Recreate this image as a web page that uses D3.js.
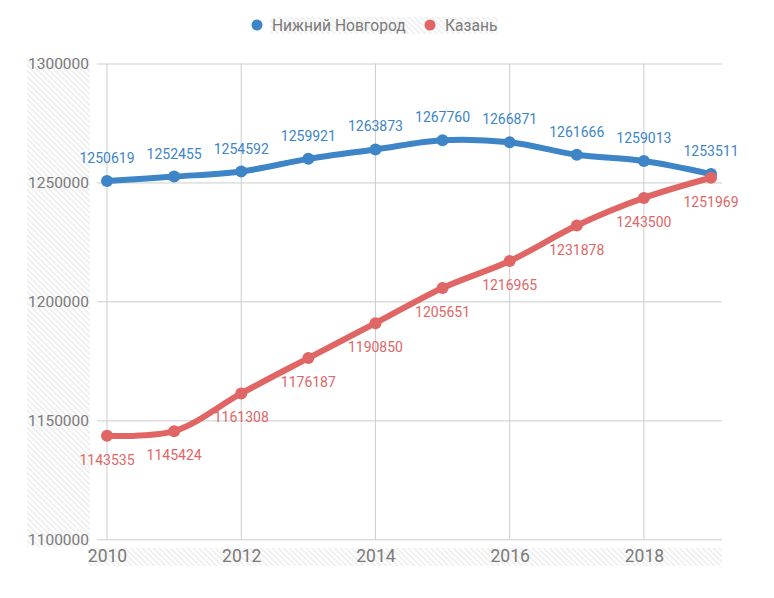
<!DOCTYPE html>
<html>
<head>
<meta charset="utf-8">
<script src="https://cdn.jsdelivr.net/npm/d3@7"></script>
<style>
  body { margin: 0; background: #fff; }
  text { font-family: Roboto, "Noto Sans", sans-serif; }
</style>
</head>
<body>
<div id="chart"></div>
<script>
const years = [2010, 2011, 2012, 2013, 2014, 2015, 2016, 2017, 2018, 2019];
const nizhny = [1250619, 1252455, 1254592, 1259921, 1263873, 1267760, 1266871, 1261666, 1259013, 1253511];
const kazan = [1143535, 1145424, 1161308, 1176187, 1190850, 1205651, 1216965, 1231878, 1243500, 1251969];
const seriesNames = ["Нижний Новгород", "Казань"];
const yTicks = [1100000, 1150000, 1200000, 1250000, 1300000];
const xTicks = [2010, 2012, 2014, 2016, 2018];

const colors = ["#3d85c6", "#e06666"];

var w = 774;
var h = 598;

var svg = d3.select("#chart").append("svg")
  .attr("width", w)
  .attr("height", h);

// hatch pattern behind labels
var defs = svg.append("defs");
defs.append("pattern")
  .attr("id", "hatch")
  .attr("patternUnits", "userSpaceOnUse")
  .attr("width", 4)
  .attr("height", 4)
  .attr("patternTransform", "rotate(-45)")
  .append("line")
  .attr("x1", 1).attr("y1", 0)
  .attr("x2", 1).attr("y2", 4)
  .attr("stroke", "#e6e6e6")
  .attr("stroke-width", 1.2);

svg.append("rect").attr("x", 27).attr("y", 58).attr("width", 63).attr("height", 489).attr("fill", "url(#hatch)");
svg.append("rect").attr("x", 88).attr("y", 548).attr("width", 634).attr("height", 18).attr("fill", "url(#hatch)");
svg.append("rect").attr("x", 270).attr("y", 17).attr("width", 228).attr("height", 17).attr("fill", "url(#hatch)");

///////////////////////////// Scales

var x = d3.scaleLinear()
  .domain([2010, 2019])
  .range([107, 711]);

var y = d3.scaleLinear()
  .domain([1100000, 1300000])
  .range([539.3, 63.5]);

///////////////////////////// Grid + axes

var yAxis = svg.append("g")
  .attr("transform", "translate(722,0)")
  .call(d3.axisLeft(y).tickValues(yTicks).tickSize(625).tickPadding(8).tickFormat(d3.format("d")));
yAxis.select(".domain").remove();
yAxis.selectAll("line").attr("stroke", "#cccccc");
yAxis.selectAll("text")
  .attr("fill", "#7a7a7a")
  .style("font-size", "15.5px");

svg.append("g")
  .selectAll("line")
  .data(xTicks)
  .join("line")
  .attr("x1", d => x(d)).attr("x2", d => x(d))
  .attr("y1", y(1300000)).attr("y2", y(1100000))
  .attr("stroke", "#cccccc");

var xAxis = svg.append("g")
  .attr("transform", "translate(0," + y(1100000) + ")")
  .call(d3.axisBottom(x).tickValues(xTicks).tickSize(0).tickPadding(10).tickFormat(d3.format("d")));
xAxis.select(".domain").remove();
xAxis.selectAll("text")
  .attr("fill", "#7a7a7a")
  .style("font-size", "17.5px");

///////////////////////////// Lines

var line = d3.line()
  .x(d => x(d.year))
  .y(d => y(d.value))
  .curve(d3.curveCatmullRom.alpha(0.5));

[nizhny, kazan].forEach((vals, i) => {
  var data = years.map((yr, j) => ({ year: yr, value: vals[j] }));
  var g = svg.append("g");

  g.append("path")
    .datum(data)
    .attr("fill", "none")
    .attr("stroke", colors[i])
    .attr("stroke-width", 6)
    .attr("stroke-linejoin", "round")
    .attr("d", line);

  g.selectAll("circle")
    .data(data)
    .join("circle")
    .attr("cx", d => x(d.year))
    .attr("cy", d => y(d.value))
    .attr("r", 6)
    .attr("fill", colors[i]);

  g.selectAll("text")
    .data(data)
    .join("text")
    .attr("x", d => x(d.year))
    .attr("y", d => y(d.value) + (i == 0 ? -18 : 29))
    .attr("text-anchor", "middle")
    .attr("fill", colors[i])
    .style("font-size", "14px")
    .text(d => d.value);
});

///////////////////////////// Legend

var legendX = [257, 430];
seriesNames.forEach((name, i) => {
  svg.append("circle")
    .attr("cx", legendX[i])
    .attr("cy", 25)
    .attr("r", 5.5)
    .attr("fill", colors[i]);
  svg.append("text")
    .attr("x", legendX[i] + 15)
    .attr("y", 30.5)
    .attr("fill", "#7a7a7a")
    .style("font-size", "15.6px")
    .text(name);
});
</script>
</body>
</html>
